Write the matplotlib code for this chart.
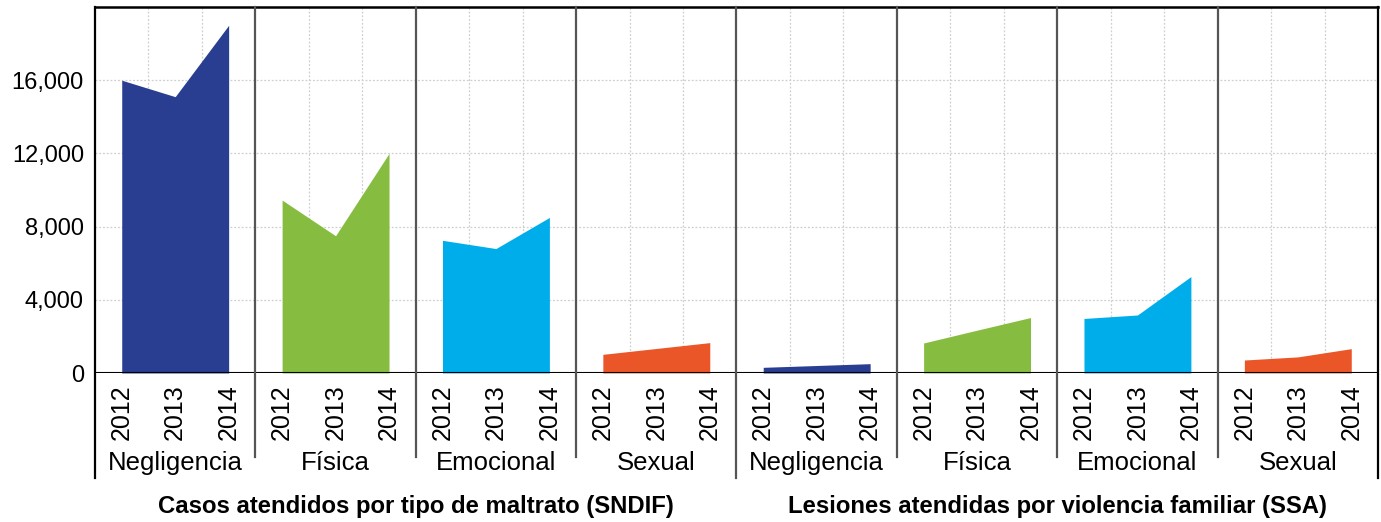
import matplotlib.pyplot as plt
import numpy as np
from matplotlib.ticker import FuncFormatter

plt.rcParams["font.family"] = ["Liberation Sans", "DejaVu Sans"]

years = ["2012", "2013", "2014"]
categories = ["Negligencia", "Física", "Emocional", "Sexual"]
colors = ["#293e90", "#86bd41", "#00adeb", "#ea5628"]

# Casos atendidos por tipo de maltrato (SNDIF)
sndif_negligencia = [16000, 15100, 19000]
sndif_fisica = [9450, 7500, 12000]
sndif_emocional = [7250, 6800, 8500]
sndif_sexual = [1020, 1340, 1660]

# Lesiones atendidas por violencia familiar (SSA)
ssa_negligencia = [310, 410, 510]
ssa_fisica = [1640, 2340, 3030]
ssa_emocional = [2980, 3170, 5270]
ssa_sexual = [710, 880, 1330]

group_titles = [
    "Casos atendidos por tipo de maltrato (SNDIF)",
    "Lesiones atendidas por violencia familiar (SSA)",
]

series = [sndif_negligencia, sndif_fisica, sndif_emocional, sndif_sexual,
          ssa_negligencia, ssa_fisica, ssa_emocional, ssa_sexual]
panel_labels = categories * 2
panel_colors = colors * 2

fig = plt.figure(figsize=(13.81, 5.22), dpi=100)
ax = fig.add_axes([95 / 1381, 1 - 373 / 522, (1378 - 95) / 1381, 366 / 522])

n = len(years)
xs_all = []
for p, vals in enumerate(series):
    xs = np.arange(n) + n * p
    xs_all.extend(xs)
    ax.fill_between(xs, 0, vals, color=panel_colors[p], lw=0, zorder=3)

ax.set_xlim(-0.5, n * len(series) - 0.5)
ax.set_ylim(0, 20000)

# grid
ax.set_yticks([0, 4000, 8000, 12000, 16000])
ax.yaxis.set_major_formatter(FuncFormatter(lambda v, _: f"{int(v):,}"))
for y in [4000, 8000, 12000, 16000]:
    ax.axhline(y, color="#cfcfcf", lw=0.9, ls=(0, (1.5, 1.5)), zorder=1)
for p in range(len(series)):
    for k in range(n - 1):
        ax.axvline(n * p + k + 0.5, color="#cfcfcf", lw=0.9, ls=(0, (1.5, 1.5)), zorder=1)

ax.set_xticks(xs_all)
ax.set_xticklabels(years * len(series), rotation=90, fontsize=18)
ax.tick_params(axis="x", length=0, pad=8)
ax.tick_params(axis="y", length=0, pad=8, labelsize=17)

for s in ["left", "top", "right", "bottom"]:
    ax.spines[s].set_visible(False)
ax.axhline(0, color="black", lw=1.5, zorder=5)
ax.plot([-0.5, n * len(series) - 0.5], [1, 1], transform=ax.get_xaxis_transform(),
        color="black", lw=1.8, clip_on=False, zorder=5)

# panel separators
trans = ax.get_xaxis_transform()
half = len(series) // 2
for p in range(len(series) + 1):
    x = n * p - 0.5
    if p in (0, half, len(series)):
        low, col = -0.287, "black" if p != half else "#555555"
    else:
        low, col = -0.230, "#555555"
    ax.plot([x, x], [1, low], transform=trans, color=col, lw=1.6,
            clip_on=False, zorder=5)

# category labels
for p, lab in enumerate(panel_labels):
    ax.text(n * p + 1, -0.245, lab, transform=trans, ha="center", va="center",
            fontsize=18.5)

# group titles
for g, title in enumerate(group_titles):
    ax.text(n * half * g + n * half / 2 - 0.5, -0.365, title, transform=trans,
            ha="center", va="center", fontsize=17.2, fontweight="bold")

fig.savefig("out.png", dpi=100)
